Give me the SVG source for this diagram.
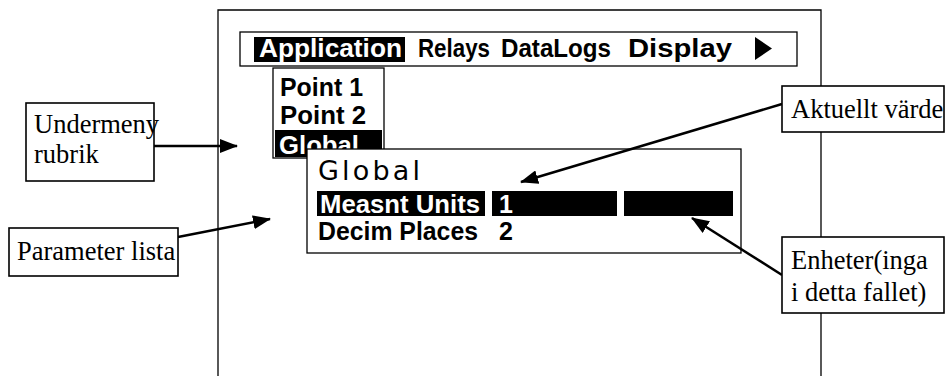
<svg xmlns="http://www.w3.org/2000/svg" width="945" height="376" viewBox="0 0 945 376">
  <defs>
    <marker id="arrowhead" markerUnits="userSpaceOnUse" markerWidth="18" markerHeight="14" viewBox="0 0 18 14" refX="17" refY="7" orient="auto">
      <path d="M0,0 L18,7 L0,14 Z" fill="#000"/>
    </marker>
  </defs>
  <style>
    .frame { fill: none; stroke: #000; stroke-width: 1.3; }
    .panel { fill: #fff; stroke: #000; stroke-width: 1.3; }
    .hl { fill: #000; }
    .menu { font-family: "Liberation Sans", Arial, sans-serif; font-weight: bold; font-size: 25px; fill: #000; }
    .inv { fill: #fff; }
    .title { font-family: "DejaVu Sans", "Liberation Sans", sans-serif; font-size: 27px; fill: #000; }
    .label-box { fill: #fff; stroke: #000; stroke-width: 1.6; }
    .label { font-family: "Liberation Serif", "Times New Roman", serif; font-size: 26.5px; fill: #000; }
    .conn { stroke: #000; stroke-width: 2.5; fill: none; marker-end: url(#arrowhead); }
  </style>

  <rect width="945" height="376" fill="#fff"/>

  <!-- display outline -->
  <path class="frame" d="M218,376 V10 H821 V376"/>

  <!-- top menu bar -->
  <g id="menu-bar">
    <rect class="panel" x="240" y="32" width="557" height="34"/>
    <rect class="hl" x="254" y="37" width="151" height="25"/>
    <text class="menu inv" x="259" y="57" textLength="143" lengthAdjust="spacingAndGlyphs">Application</text>
    <text class="menu" x="418" y="57" textLength="72" lengthAdjust="spacingAndGlyphs">Relays</text>
    <text class="menu" x="501" y="57" textLength="110" lengthAdjust="spacingAndGlyphs">DataLogs</text>
    <text class="menu" x="628" y="57" textLength="104" lengthAdjust="spacingAndGlyphs">Display</text>
    <polygon points="755,37 772,48.5 755,60" fill="#000"/>
  </g>

  <!-- drop-down submenu -->
  <g id="submenu">
    <rect class="panel" x="273" y="68" width="111" height="90"/>
    <text class="menu" x="280" y="96" textLength="83" lengthAdjust="spacingAndGlyphs">Point 1</text>
    <text class="menu" x="280" y="124" textLength="86" lengthAdjust="spacingAndGlyphs">Point 2</text>
    <rect class="hl" x="275" y="130" width="107" height="27"/>
    <text class="menu inv" x="279" y="154" textLength="80" lengthAdjust="spacingAndGlyphs">Global</text>
  </g>

  <!-- parameter panel -->
  <g id="global-panel">
    <rect class="panel" x="307" y="149" width="434" height="104"/>
    <text class="title" x="318" y="180" textLength="102" lengthAdjust="spacing">Global</text>
    <rect class="hl" x="317" y="191" width="168" height="25"/>
    <text class="menu inv" x="320" y="213" textLength="160" lengthAdjust="spacingAndGlyphs">Measnt Units</text>
    <rect class="hl" x="492" y="191" width="125" height="25"/>
    <text class="menu inv" x="499" y="213">1</text>
    <rect class="hl" x="624" y="191" width="109" height="25"/>
    <text class="menu" x="318" y="240" textLength="160" lengthAdjust="spacingAndGlyphs">Decim Places</text>
    <text class="menu" x="499" y="240">2</text>
  </g>

  <!-- connectors -->
  <g id="connectors">
    <line class="conn" x1="154" y1="146" x2="237" y2="146"/>
    <line class="conn" x1="178" y1="237" x2="270" y2="219"/>
    <line class="conn" x1="782" y1="104" x2="521" y2="182"/>
    <line class="conn" x1="782" y1="275" x2="692" y2="218"/>
  </g>

  <!-- callout labels -->
  <g id="label-undermeny">
    <rect class="label-box" x="26" y="103" width="128" height="78"/>
    <text class="label" x="34" y="133">Undermeny</text>
    <text class="label" x="34" y="163">rubrik</text>
  </g>
  <g id="label-parameter">
    <rect class="label-box" x="9" y="228" width="169" height="48"/>
    <text class="label" x="17" y="260">Parameter lista</text>
  </g>
  <g id="label-aktuellt">
    <rect class="label-box" x="782" y="86" width="162" height="46"/>
    <text class="label" x="791" y="118">Aktuellt värde</text>
  </g>
  <g id="label-enheter">
    <rect class="label-box" x="782" y="237" width="162" height="76"/>
    <text class="label" x="791" y="269">Enheter(inga</text>
    <text class="label" x="791" y="301">i detta fallet)</text>
  </g>
</svg>
